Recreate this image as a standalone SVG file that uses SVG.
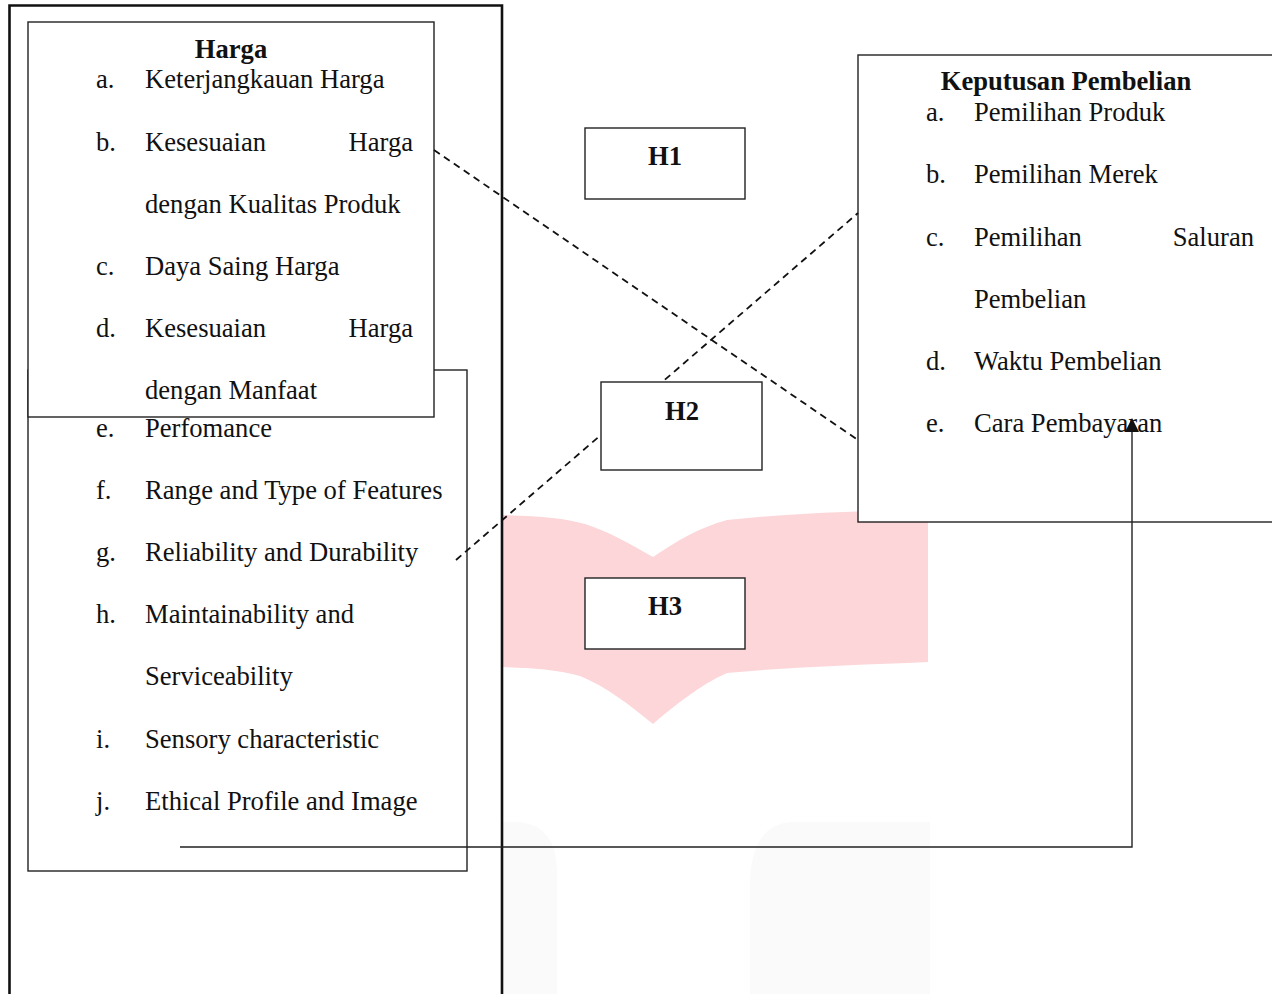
<svg xmlns="http://www.w3.org/2000/svg" width="1272" height="994" viewBox="0 0 1272 994">
<style>
.t{font-family:"Liberation Serif","Times New Roman",serif;font-size:26.6px;fill:#111}
.b{font-weight:bold}
.box{fill:#fff;stroke:#222;stroke-width:1.4}
.dash{fill:none;stroke:#111;stroke-width:1.8;stroke-dasharray:7,5}
.solid{fill:none;stroke:#222;stroke-width:1.4}
</style>
<rect width="1272" height="994" fill="#fff"/>
<g id="watermark">
<path d="M503,515 C540,516 565,518 585,524 C610,532 630,544 653,557 C675,542 700,527 727,520 C790,513 860,511 928,510 L928,662 C860,665 790,667 727,673 C700,685 675,705 653,724 C630,705 605,686 580,676 C555,669 530,668 503,667 Z" fill="#fcd6d9"/>
<path d="M503,822 L520,822 Q556,826 557,870 L557,994 L503,994 Z" fill="#fafafa"/>
<path d="M930,822 L790,822 Q752,826 750,880 L750,994 L930,994 Z" fill="#fafafa"/>
</g>
<g id="frame">
<path d="M9.5,1000 V5.5 H502 V1000" fill="none" stroke="#111" stroke-width="2.6"/>
</g>
<g id="kualitas-produk">
<rect class="box" x="28" y="370" width="439" height="501"/>
<text class="t" x="96" y="437">e.</text><text class="t" x="145" y="437">Perfomance</text>
<text class="t" x="96" y="499">f.</text><text class="t" x="145" y="499">Range and Type of Features</text>
<text class="t" x="96" y="561">g.</text><text class="t" x="145" y="561">Reliability and Durability</text>
<text class="t" x="96" y="623">h.</text><text class="t" x="145" y="623">Maintainability and</text>
<text class="t" x="145" y="685">Serviceability</text>
<text class="t" x="96" y="748">i.</text><text class="t" x="145" y="748">Sensory characteristic</text>
<text class="t" x="96" y="810">j.</text><text class="t" x="145" y="810">Ethical Profile and Image</text>
</g>
<g id="harga">
<rect class="box" x="28" y="22" width="406" height="395"/>
<text class="t b" x="231" y="58" text-anchor="middle">Harga</text>
<text class="t" x="96" y="88">a.</text><text class="t" x="145" y="88">Keterjangkauan Harga</text>
<text class="t" x="96" y="151">b.</text><text class="t" x="145" y="151">Kesesuaian</text><text class="t" x="413" y="151" text-anchor="end">Harga</text>
<text class="t" x="145" y="213">dengan Kualitas Produk</text>
<text class="t" x="96" y="275">c.</text><text class="t" x="145" y="275">Daya Saing Harga</text>
<text class="t" x="96" y="337">d.</text><text class="t" x="145" y="337">Kesesuaian</text><text class="t" x="413" y="337" text-anchor="end">Harga</text>
<text class="t" x="145" y="399">dengan Manfaat</text>
</g>
<g id="keputusan-pembelian">
<rect class="box" x="858" y="55" width="430" height="467"/>
<text class="t b" x="1066" y="90" text-anchor="middle">Keputusan Pembelian</text>
<text class="t" x="926" y="121">a.</text><text class="t" x="974" y="121">Pemilihan Produk</text>
<text class="t" x="926" y="183">b.</text><text class="t" x="974" y="183">Pemilihan Merek</text>
<text class="t" x="926" y="246">c.</text><text class="t" x="974" y="246">Pemilihan</text><text class="t" x="1254" y="246" text-anchor="end">Saluran</text>
<text class="t" x="974" y="308">Pembelian</text>
<text class="t" x="926" y="370">d.</text><text class="t" x="974" y="370">Waktu Pembelian</text>
<text class="t" x="926" y="432">e.</text><text class="t" x="974" y="432">Cara Pembayaran</text>
</g>
<g id="connectors">
<line class="dash" x1="434" y1="150" x2="858" y2="440"/>
<line class="dash" x1="456" y1="560" x2="858" y2="213"/>
<path class="solid" d="M180,847 H1132 V432"/>
<path d="M1125,432 L1132,418 L1139,432 Z" fill="#111"/>
</g>
<g id="h1">
<rect class="box" x="585" y="128" width="160" height="71"/>
<text class="t b" x="665" y="165" text-anchor="middle">H1</text>
</g>
<g id="h2">
<rect class="box" x="601" y="382" width="161" height="88"/>
<text class="t b" x="682" y="420" text-anchor="middle">H2</text>
</g>
<g id="h3">
<rect class="box" x="585" y="578" width="160" height="71"/>
<text class="t b" x="665" y="615" text-anchor="middle">H3</text>
</g>
</svg>
